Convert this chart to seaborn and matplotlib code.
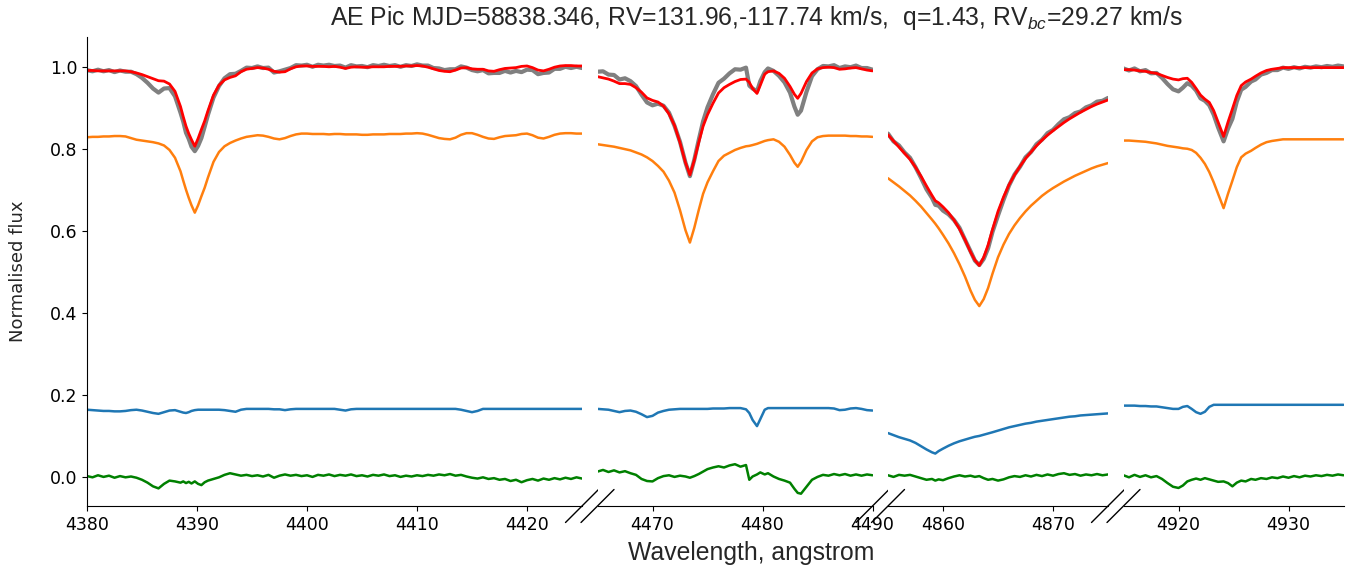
import numpy as np
import pandas as pd
import matplotlib
matplotlib.use("Agg")
import matplotlib.pyplot as plt
from matplotlib.ticker import MultipleLocator
import seaborn as sns

# ---------------------------------------------------------------------------
# Spectral segments (angstrom) shown on the broken wavelength axis
# ---------------------------------------------------------------------------
seg_limits = [(4380, 4425), (4465, 4490), (4855, 4875), (4915, 4935)]

# Segment 1: He I 4388 region
wl_1 = [4380.0, 4380.5, 4381.0, 4381.5, 4382.0, 4382.5, 4383.0, 4383.5, 4384.0, 4384.5,
        4385.0, 4385.5, 4386.0, 4386.5, 4387.0, 4387.5, 4388.0, 4388.5, 4388.75, 4389.0,
        4389.25, 4389.5, 4389.8, 4390.1, 4390.4, 4390.7, 4391.0, 4391.5, 4392.0, 4392.5,
        4393.0, 4393.5, 4394.0, 4394.5, 4395.0, 4395.5, 4396.0, 4396.5, 4397.0, 4397.5,
        4398.0, 4398.5, 4399.0, 4399.5, 4400.0, 4400.5, 4401.0, 4401.5, 4402.0, 4402.5,
        4403.0, 4403.5, 4404.0, 4404.5, 4405.0, 4405.5, 4406.0, 4406.5, 4407.0, 4407.5,
        4408.0, 4408.5, 4409.0, 4409.5, 4410.0, 4410.5, 4411.0, 4411.5, 4412.0, 4412.5,
        4413.0, 4413.5, 4414.0, 4414.5, 4415.0, 4415.5, 4416.0, 4416.5, 4417.0, 4417.5,
        4418.0, 4418.5, 4419.0, 4419.5, 4420.0, 4420.5, 4421.0, 4421.5, 4422.0, 4422.5,
        4423.0, 4423.5, 4424.0, 4424.5, 4425.0]
obs_1 = [0.992, 0.989, 0.993, 0.989, 0.992, 0.987, 0.991, 0.988, 0.988, 0.982,
         0.973, 0.961, 0.947, 0.937, 0.947, 0.948, 0.928, 0.888, 0.866, 0.839,
         0.824, 0.805, 0.794, 0.807, 0.826, 0.854, 0.883, 0.925, 0.953, 0.972,
         0.982, 0.983, 0.990, 0.998, 0.997, 1.001, 0.997, 0.998, 0.986, 0.989,
         0.993, 0.997, 1.004, 1.003, 1.005, 1.000, 1.005, 1.003, 1.005, 1.002,
         1.003, 0.998, 1.004, 1.001, 1.002, 0.999, 1.004, 1.002, 1.005, 1.002,
         1.004, 1.000, 1.004, 1.002, 1.006, 1.003, 1.003, 0.997, 0.996, 0.992,
         0.994, 0.994, 1.001, 0.998, 0.992, 0.989, 0.992, 0.984, 0.985, 0.985,
         0.990, 0.986, 0.990, 0.987, 0.993, 0.992, 0.982, 0.985, 0.986, 0.995,
         0.995, 1.000, 0.997, 1.000, 0.997]
prim_1 = [0.828, 0.829, 0.829, 0.830, 0.830, 0.831, 0.831, 0.830, 0.826, 0.822,
          0.820, 0.818, 0.816, 0.813, 0.808, 0.797, 0.778, 0.745, 0.722, 0.700,
          0.680, 0.662, 0.644, 0.662, 0.684, 0.705, 0.730, 0.768, 0.792, 0.806,
          0.814, 0.820, 0.825, 0.829, 0.831, 0.833, 0.832, 0.829, 0.825, 0.823,
          0.826, 0.831, 0.835, 0.837, 0.837, 0.836, 0.836, 0.836, 0.835, 0.836,
          0.836, 0.835, 0.835, 0.835, 0.834, 0.834, 0.835, 0.835, 0.835, 0.836,
          0.836, 0.836, 0.837, 0.837, 0.838, 0.837, 0.834, 0.830, 0.826, 0.824,
          0.823, 0.827, 0.834, 0.838, 0.838, 0.834, 0.829, 0.825, 0.824, 0.828,
          0.831, 0.832, 0.833, 0.836, 0.837, 0.833, 0.827, 0.825, 0.829, 0.834,
          0.837, 0.838, 0.838, 0.837, 0.837]
sec_1 = [0.163, 0.162, 0.161, 0.160, 0.160, 0.159, 0.159, 0.160, 0.162, 0.163,
         0.161, 0.158, 0.155, 0.153, 0.157, 0.161, 0.162, 0.158, 0.156, 0.155,
         0.157, 0.160, 0.162, 0.163, 0.163, 0.163, 0.163, 0.163, 0.163, 0.162,
         0.160, 0.158, 0.163, 0.165, 0.165, 0.165, 0.165, 0.165, 0.164, 0.164,
         0.162, 0.164, 0.165, 0.165, 0.165, 0.165, 0.165, 0.165, 0.165, 0.165,
         0.163, 0.161, 0.164, 0.165, 0.165, 0.165, 0.165, 0.165, 0.165, 0.165,
         0.165, 0.165, 0.165, 0.165, 0.165, 0.165, 0.165, 0.165, 0.165, 0.165,
         0.165, 0.165, 0.163, 0.160, 0.157, 0.160, 0.165, 0.165, 0.165, 0.165,
         0.165, 0.165, 0.165, 0.165, 0.165, 0.165, 0.165, 0.165, 0.165, 0.165,
         0.165, 0.165, 0.165, 0.165, 0.165]

# Segment 2: He I 4471 / Mg II 4481 region
wl_2 = [4465.0, 4465.5, 4466.0, 4466.5, 4467.0, 4467.5, 4468.0, 4468.5, 4469.0, 4469.5,
        4470.0, 4470.5, 4471.0, 4471.5, 4472.0, 4472.5, 4473.0, 4473.4, 4473.8, 4474.2,
        4474.6, 4475.0, 4475.5, 4476.0, 4476.5, 4477.0, 4477.5, 4478.0, 4478.5, 4478.8,
        4479.1, 4479.5, 4479.8, 4480.2, 4480.5, 4481.0, 4481.5, 4482.0, 4482.5, 4482.9,
        4483.2, 4483.5, 4484.0, 4484.5, 4485.0, 4485.5, 4486.0, 4486.5, 4487.0, 4487.5,
        4488.0, 4488.5, 4489.0, 4489.5, 4490.0]
obs_2 = [0.988, 0.989, 0.981, 0.980, 0.969, 0.972, 0.965, 0.953, 0.932, 0.913,
         0.906, 0.910, 0.905, 0.888, 0.856, 0.817, 0.766, 0.733, 0.773, 0.821,
         0.867, 0.901, 0.933, 0.961, 0.971, 0.984, 0.994, 0.993, 0.998, 0.954,
         0.947, 0.940, 0.965, 0.987, 0.996, 0.990, 0.978, 0.962, 0.937, 0.903,
         0.883, 0.893, 0.939, 0.977, 0.994, 1.002, 1.001, 1.004, 0.997, 1.001,
         0.999, 1.003, 0.997, 0.997, 0.993]
prim_2 = [0.811, 0.809, 0.807, 0.805, 0.802, 0.799, 0.796, 0.791, 0.786, 0.779,
          0.770, 0.758, 0.744, 0.722, 0.693, 0.650, 0.601, 0.571, 0.607, 0.650,
          0.690, 0.718, 0.745, 0.770, 0.783, 0.790, 0.797, 0.802, 0.806, 0.807,
          0.809, 0.812, 0.815, 0.819, 0.821, 0.823, 0.817, 0.805, 0.785, 0.766,
          0.756, 0.768, 0.797, 0.818, 0.828, 0.831, 0.832, 0.832, 0.832, 0.832,
          0.831, 0.831, 0.830, 0.830, 0.829]
sec_2 = [0.165, 0.164, 0.163, 0.160, 0.157, 0.160, 0.161, 0.158, 0.152, 0.145,
         0.148, 0.156, 0.160, 0.163, 0.164, 0.165, 0.165, 0.165, 0.165, 0.165,
         0.165, 0.165, 0.166, 0.166, 0.166, 0.167, 0.167, 0.167, 0.164, 0.155,
         0.138, 0.123, 0.140, 0.163, 0.167, 0.167, 0.167, 0.167, 0.167, 0.167,
         0.167, 0.167, 0.167, 0.167, 0.167, 0.167, 0.167, 0.166, 0.162, 0.163,
         0.166, 0.167, 0.165, 0.162, 0.161]

# Segment 3: H-beta region
wl_3 = [4855.0, 4855.5, 4856.0, 4856.5, 4857.0, 4857.5, 4858.0, 4858.5, 4859.0, 4859.3,
        4859.6, 4860.0, 4860.5, 4861.0, 4861.5, 4862.0, 4862.5, 4862.9, 4863.3, 4863.7,
        4864.1, 4864.5, 4865.0, 4865.5, 4866.0, 4866.5, 4867.0, 4867.5, 4868.0, 4868.5,
        4869.0, 4869.5, 4870.0, 4870.5, 4871.0, 4871.5, 4872.0, 4872.5, 4873.0, 4873.5,
        4874.0, 4874.5, 4875.0]
obs_3 = [0.837, 0.818, 0.808, 0.791, 0.778, 0.755, 0.729, 0.701, 0.680, 0.663,
         0.661, 0.649, 0.640, 0.626, 0.607, 0.578, 0.550, 0.527, 0.516, 0.531,
         0.557, 0.597, 0.637, 0.675, 0.710, 0.737, 0.756, 0.779, 0.792, 0.811,
         0.822, 0.838, 0.846, 0.860, 0.872, 0.877, 0.887, 0.891, 0.901, 0.906,
         0.915, 0.917, 0.924]
prim_3 = [0.728, 0.718, 0.708, 0.697, 0.686, 0.673, 0.659, 0.643, 0.627, 0.617,
          0.606, 0.590, 0.569, 0.545, 0.518, 0.488, 0.454, 0.431, 0.416, 0.433,
          0.460, 0.495, 0.535, 0.566, 0.592, 0.613, 0.631, 0.647, 0.661, 0.673,
          0.685, 0.695, 0.704, 0.712, 0.720, 0.727, 0.734, 0.740, 0.746, 0.752,
          0.757, 0.761, 0.765]
sec_3 = [0.106, 0.101, 0.096, 0.092, 0.088, 0.082, 0.074, 0.066, 0.059, 0.056,
         0.062, 0.068, 0.075, 0.081, 0.086, 0.090, 0.094, 0.097, 0.099, 0.102,
         0.105, 0.108, 0.112, 0.116, 0.120, 0.123, 0.126, 0.129, 0.131, 0.134,
         0.136, 0.138, 0.140, 0.142, 0.144, 0.146, 0.147, 0.149, 0.150, 0.151,
         0.152, 0.153, 0.154]

# Segment 4: He I 4922 region
wl_4 = [4915.0, 4915.5, 4916.0, 4916.5, 4917.0, 4917.5, 4918.0, 4918.5, 4919.0, 4919.5,
        4920.0, 4920.4, 4920.8, 4921.2, 4921.6, 4922.0, 4922.4, 4922.8, 4923.2, 4923.6,
        4924.1, 4924.5, 4924.9, 4925.3, 4925.7, 4926.1, 4926.6, 4927.0, 4927.5, 4928.0,
        4928.5, 4929.0, 4929.5, 4930.0, 4930.5, 4931.0, 4931.5, 4932.0, 4932.5, 4933.0,
        4933.5, 4934.0, 4934.5, 4935.0]
obs_4 = [0.996, 0.991, 0.996, 0.989, 0.992, 0.984, 0.985, 0.973, 0.958, 0.945,
         0.940, 0.949, 0.960, 0.954, 0.942, 0.923, 0.917, 0.906, 0.883, 0.852,
         0.818, 0.849, 0.873, 0.915, 0.944, 0.951, 0.964, 0.969, 0.981, 0.985,
         0.992, 0.992, 0.998, 0.995, 0.999, 0.996, 1.000, 0.998, 1.001, 0.999,
         1.002, 1.000, 1.003, 1.001]
prim_4 = [0.820, 0.820, 0.819, 0.818, 0.817, 0.815, 0.813, 0.810, 0.807, 0.805,
          0.803, 0.801, 0.800, 0.797, 0.790, 0.778, 0.763, 0.743, 0.718, 0.690,
          0.655, 0.690, 0.722, 0.755, 0.779, 0.788, 0.795, 0.802, 0.810, 0.816,
          0.819, 0.821, 0.823, 0.823, 0.823, 0.823, 0.823, 0.823, 0.823, 0.823,
          0.823, 0.823, 0.823, 0.823]
sec_4 = [0.173, 0.173, 0.173, 0.172, 0.172, 0.171, 0.171, 0.169, 0.167, 0.165,
         0.165, 0.170, 0.172, 0.165, 0.157, 0.153, 0.158, 0.170, 0.175, 0.175,
         0.175, 0.175, 0.175, 0.175, 0.175, 0.175, 0.175, 0.175, 0.175, 0.175,
         0.175, 0.175, 0.175, 0.175, 0.175, 0.175, 0.175, 0.175, 0.175, 0.175,
         0.175, 0.175, 0.175, 0.175]

segments = [
    (wl_1, obs_1, prim_1, sec_1),
    (wl_2, obs_2, prim_2, sec_2),
    (wl_3, obs_3, prim_3, sec_3),
    (wl_4, obs_4, prim_4, sec_4),
]

title = ("AE Pic MJD=58838.346, RV=131.96,-117.74 km/s,  q=1.43, "
         "RV$_{bc}$=29.27 km/s")

# ---------------------------------------------------------------------------
# Style
# ---------------------------------------------------------------------------
sns.set_style("ticks")
plt.rcParams["font.family"] = ["DejaVu Sans"]
plt.rcParams["mathtext.fontset"] = "custom"
plt.rcParams["mathtext.rm"] = "Liberation Sans"
plt.rcParams["mathtext.it"] = "Liberation Sans:italic"
plt.rcParams["mathtext.bf"] = "Liberation Sans:bold"
plt.rcParams["axes.edgecolor"] = "black"
plt.rcParams["xtick.color"] = "black"
plt.rcParams["ytick.color"] = "black"
plt.rcParams["xtick.labelsize"] = 12.5
plt.rcParams["ytick.labelsize"] = 12.5

W, H = 1359, 569
fig = plt.figure(figsize=(W / 100, H / 100), dpi=100)

# layout of the broken axis, in pixels
px_per_A = 11.0
gap_px = 15.5
left_px, bottom_px, top_px = 87.0, 506.0, 37.3
ylim = (-0.072, 1.072)

axes = []
x_cursor = left_px
for lo, hi in seg_limits:
    w_px = (hi - lo) * px_per_A
    ax = fig.add_axes([x_cursor / W, 1 - bottom_px / H, w_px / W,
                       (bottom_px - top_px) / H])
    axes.append((ax, w_px))
    x_cursor += w_px + gap_px

lw_obs, lw_fit, lw_comp = 3.0, 2.0, 1.8

for i, ((ax, w_px), (lo, hi), (wl, obs, prim, sec)) in enumerate(
        zip(axes, seg_limits, segments)):
    df = pd.DataFrame({"wavelength": wl, "observed": obs,
                       "primary": prim, "secondary": sec})
    df["model"] = df["primary"] + df["secondary"]
    df["residual"] = df["observed"] - df["model"]

    kw = dict(data=df, x="wavelength", ax=ax, estimator=None, sort=False)
    sns.lineplot(y="observed", color="grey", lw=lw_obs, **kw)
    sns.lineplot(y="model", color="red", lw=lw_fit, **kw)
    sns.lineplot(y="primary", color="#ff7f0e", lw=lw_comp, **kw)
    sns.lineplot(y="secondary", color="#1f77b4", lw=lw_comp, **kw)
    sns.lineplot(y="residual", color="green", lw=lw_comp, **kw)

    ax.set_xlim(lo, hi)
    ax.set_ylim(*ylim)
    ax.xaxis.set_major_locator(MultipleLocator(10))
    ax.set_xlabel("")
    ax.set_ylabel("")
    ax.spines["top"].set_visible(False)
    ax.spines["right"].set_visible(False)
    if i == 0:
        ax.yaxis.set_major_locator(MultipleLocator(0.2))
    else:
        ax.spines["left"].set_visible(False)
        ax.tick_params(axis="y", left=False, labelleft=False)

    # diagonal break marks on the wavelength axis
    h_px = bottom_px - top_px
    d = 16.5
    dx, dy = d / w_px, d / h_px
    mark = dict(transform=ax.transAxes, color="black", lw=1.0, clip_on=False)
    if i < len(seg_limits) - 1:
        ax.plot([1 - dx, 1 + dx], [-dy, dy], **mark)
    if i > 0:
        ax.plot([-dx, dx], [-dy, dy], **mark)

fig.text(756 / W, 1 - 25.3 / H, title, ha="center", va="baseline",
         fontsize=17.8, family="Liberation Sans")
fig.text(751 / W, 1 - 560 / H, "Wavelength, angstrom", ha="center",
         va="baseline", fontsize=17.8, family="Liberation Sans")
fig.text(18.5 / W, 1 - 271.7 / H, "Normalised flux", rotation=90,
         ha="center", va="center", fontsize=13)

fig.savefig("out.png", dpi=100)
